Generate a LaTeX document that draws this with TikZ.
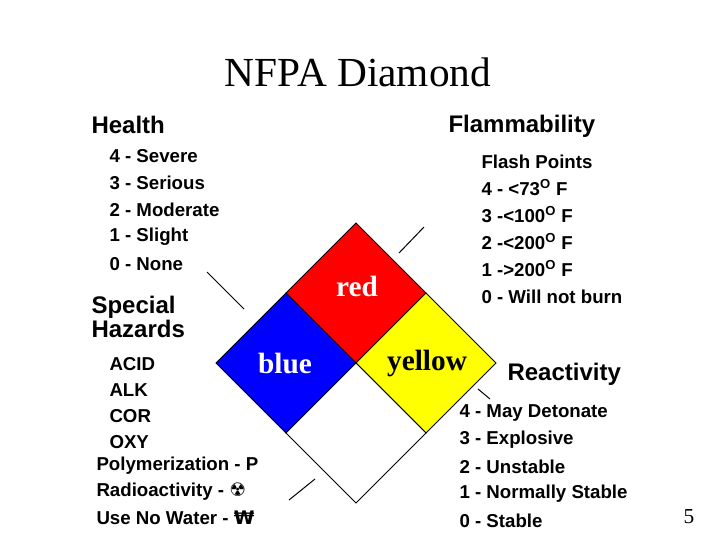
\documentclass[tikz,border=0pt]{standalone}
\usepackage{fontspec}
\setmainfont{Liberation Serif}
\newfontfamily\listfont{Liberation Sans}
\newfontfamily\symfont{DejaVu Sans}
\tikzset{every picture/.style={line width=0.75pt}}
\tikzset{
  head/.style={anchor=west,inner sep=0.75pt,font=\listfont\bfseries\fontsize{18}{20}\selectfont},
  item/.style={anchor=west,inner sep=0.75pt,font=\listfont\bfseries\fontsize{14}{16}\selectfont},
  colour/.style={inner sep=0.75pt,font=\bfseries\fontsize{22}{24}\selectfont}
}
\begin{document}
\begin{tikzpicture}[x=0.75pt,y=0.75pt,yscale=-1,xscale=1]
\useasboundingbox (0,0) rectangle (720,540);

% diamond corners
\coordinate (top) at (356,223);
\coordinate (lft) at (216,363);
\coordinate (rgt) at (496,363);
\coordinate (bot) at (356,503);
\coordinate (ctr) at (356,363);
\coordinate (tl) at (286,293);
\coordinate (tr) at (426,293);
\coordinate (bl) at (286,433);
\coordinate (br) at (426,433);

%Shape: quarters
\draw[fill={rgb,255:red,255;green,0;blue,0}] (top) -- (tr) -- (ctr) -- (tl) -- cycle ;
\draw[fill={rgb,255:red,0;green,0;blue,255}] (tl) -- (ctr) -- (bl) -- (lft) -- cycle ;
\draw[fill={rgb,255:red,255;green,255;blue,0}] (tr) -- (rgt) -- (br) -- (ctr) -- cycle ;
\draw[fill=white] (ctr) -- (br) -- (bot) -- (bl) -- cycle ;

%Straight Lines: ticks
\draw (207,272) -- (244,309) ;
\draw (399,253) -- (424,227) ;
\draw (478,389) -- (490,399) ;
\draw (289,500) -- (315,479) ;

% Text Node
\node (title) at (358,72) {\fontsize{31}{34}\selectfont NFPA Diamond};
\node (red) [colour,text=white] at (357,286) {red};
\node (blue) [colour,text=white] at (285,363) {blue};
\node (yellow) [colour] at (427,363) {yellow};
\node (page) at (689,517) {\fontsize{16}{18}\selectfont 5};

% Health
\node (health) [head] at (90,125) {Health};
\node (h4) [item] at (108,156) {4 - Severe};
\node (h3) [item] at (108,183) {3 - Serious};
\node (h2) [item] at (108,210) {2 - Moderate};
\node (h1) [item] at (108,237) {1 - Slight};
\node (h0) [item] at (108,264) {0 - None};

% Flammability
\node (flam) [head] at (447,126) {Flammability};
\node (fp) [item] at (480,162) {Flash Points};
\node (f4) [item] at (480,188) {4 - <73\textsuperscript{O} F};
\node (f3) [item] at (480,215) {3 -<100\textsuperscript{O} F};
\node (f2) [item] at (480,242) {2 -<200\textsuperscript{O} F};
\node (f1) [item] at (480,269) {1 ->200\textsuperscript{O} F};
\node (f0) [item] at (480,297) {0 - Will not burn};

% Special Hazards
\node (spec) [head,align=left] at (90,317) {Special\\[-2pt]Hazards};
\node (s1) [item] at (108,364) {ACID};
\node (s2) [item] at (108,390) {ALK};
\node (s3) [item] at (108,416) {COR};
\node (s4) [item] at (108,442) {OXY};
\node (s5) [item] at (95,466) {Polymerization - P};
\node (s6) [item] at (95,492) {Radioactivity - {\symfont ☢}};
\node (s7) [item] at (95,518) {Use No Water - {\symfont ₩}};

% Reactivity
\node (react) [head] at (506,374) {Reactivity};
\node (r4) [item] at (458,413) {4 - May Detonate};
\node (r3) [item] at (458,440) {3 - Explosive};
\node (r2) [item] at (458,467) {2 - Unstable};
\node (r1) [item] at (458,494) {1 - Normally Stable};
\node (r0) [item] at (458,521) {0 - Stable};

\end{tikzpicture}
\end{document}
